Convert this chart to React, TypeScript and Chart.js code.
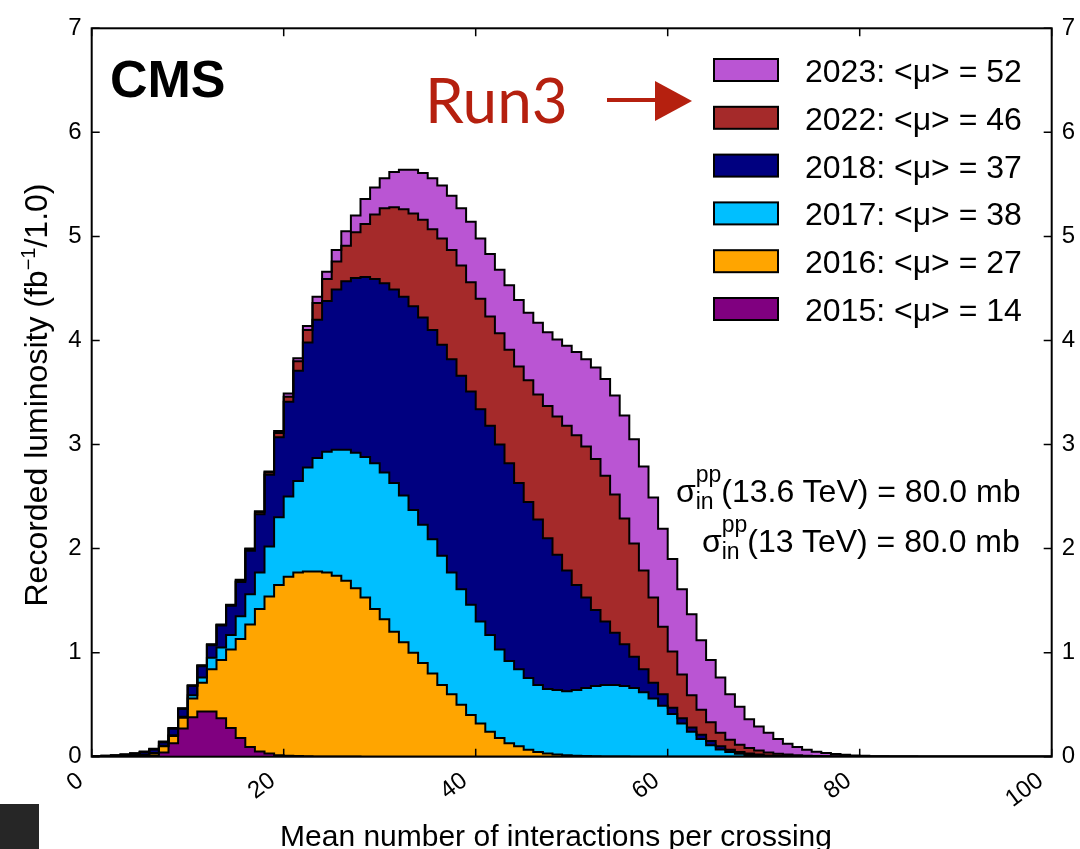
import React, { useEffect, useRef } from "react";
import { Chart, registerables } from "chart.js";

Chart.register(...registerables);

const FONT = "'Liberation Sans', Arial, Helvetica, sans-serif";

// ---- axis / tick definitions ----
const X_MIN = 0;
const X_MAX = 100;
const BIN_WIDTH = 1.0;
const Y_MIN = 0;
const Y_MAX = 7;
const xTickValues = [0, 20, 40, 60, 80, 100];
const yTickValues = [0, 1, 2, 3, 4, 5, 6, 7];

// ---- series (recorded luminosity per bin of mean pileup, fb^-1 / 1.0) ----
const lumi2015 = [
  0, 0, 0, 0, 0, 0, 0.002, 0.01, 0.04, 0.13,
  0.27, 0.38, 0.435, 0.435, 0.37, 0.275, 0.18, 0.093, 0.05, 0.03,
  0.015, 0.01, 0.006, 0.004, 0.003, 0.002, 0.002, 0.001, 0.001, 0,
  0, 0, 0, 0, 0, 0, 0, 0, 0, 0,
  0, 0, 0, 0, 0, 0, 0, 0, 0, 0,
  0, 0, 0, 0, 0, 0, 0, 0, 0, 0,
  0, 0, 0, 0, 0, 0, 0, 0, 0, 0,
  0, 0, 0, 0, 0, 0, 0, 0, 0, 0,
  0, 0, 0, 0, 0, 0, 0, 0, 0, 0,
  0, 0, 0, 0, 0, 0, 0, 0, 0, 0,
];
const lumi2016 = [
  0, 0, 0.001, 0.002, 0.004, 0.007, 0.01, 0.02, 0.06, 0.07,
  0.105, 0.18, 0.275, 0.405, 0.56, 0.755, 0.95, 1.177, 1.37, 1.51,
  1.635, 1.72, 1.764, 1.776, 1.777, 1.768, 1.738, 1.689, 1.619, 1.53,
  1.42, 1.32, 1.2, 1.1, 1.0, 0.9, 0.8, 0.69, 0.6, 0.5,
  0.4, 0.32, 0.24, 0.18, 0.13, 0.1, 0.067, 0.045, 0.03, 0.02,
  0.013, 0.009, 0.006, 0.004, 0.003, 0.002, 0.001, 0, 0, 0,
  0, 0, 0, 0, 0, 0, 0, 0, 0, 0,
  0, 0, 0, 0, 0, 0, 0, 0, 0, 0,
  0, 0, 0, 0, 0, 0, 0, 0, 0, 0,
  0, 0, 0, 0, 0, 0, 0, 0, 0, 0,
];
const lumi2017 = [
  0, 0.001, 0.001, 0.002, 0.003, 0.004, 0.006, 0.006, 0.005, 0.005,
  0.01, 0.03, 0.05, 0.11, 0.12, 0.14, 0.22, 0.29, 0.35, 0.48,
  0.65, 0.77, 0.88, 1.0, 1.09, 1.16, 1.21, 1.26, 1.3, 1.35,
  1.4, 1.41, 1.43, 1.41, 1.37, 1.33, 1.29, 1.24, 1.17, 1.11,
  1.06, 0.98, 0.93, 0.85, 0.79, 0.74, 0.69, 0.645, 0.62, 0.62,
  0.617, 0.631, 0.654, 0.676, 0.687, 0.688, 0.679, 0.66, 0.62, 0.56,
  0.49, 0.41, 0.32, 0.24, 0.17, 0.11, 0.07, 0.045, 0.028, 0.017,
  0.01, 0.006, 0.004, 0.002, 0, 0, 0, 0, 0, 0,
  0, 0, 0, 0, 0, 0, 0, 0, 0, 0,
  0, 0, 0, 0, 0, 0, 0, 0, 0, 0,
];
const lumi2018 = [
  0.002, 0.003, 0.005, 0.007, 0.011, 0.017, 0.024, 0.032, 0.035, 0.065,
  0.075, 0.09, 0.11, 0.12, 0.21, 0.28, 0.33, 0.42, 0.56, 0.69,
  0.77, 0.91, 1.06, 1.2, 1.33, 1.45, 1.54, 1.62, 1.68, 1.73,
  1.77, 1.82, 1.86, 1.91, 1.96, 1.99, 2.01, 2.03, 2.05, 2.05,
  2.05, 2.04, 2.01, 1.97, 1.9, 1.79, 1.69, 1.59, 1.45, 1.3,
  1.16, 1.01, 0.87, 0.73, 0.61, 0.5, 0.4, 0.3, 0.22, 0.15,
  0.11, 0.06, 0.05, 0.04, 0.04, 0.04, 0.03, 0.022, 0.017, 0.013,
  0.01, 0.006, 0.004, 0.003, 0.003, 0.002, 0.001, 0, 0, 0,
  0, 0, 0, 0, 0, 0, 0, 0, 0, 0,
  0, 0, 0, 0, 0, 0, 0, 0, 0, 0,
];
const lumi2022 = [
  0, 0, 0.001, 0.001, 0.002, 0.003, 0.004, 0.004, 0, 0.002,
  0.002, 0.002, 0.005, 0.005, 0.005, 0.005, 0.01, 0.015, 0.02, 0.02,
  0.04, 0.05, 0.09, 0.12, 0.16, 0.21, 0.27, 0.34, 0.44, 0.51,
  0.62, 0.72, 0.79, 0.84, 0.89, 0.94, 0.97, 1.02, 1.05, 1.06,
  1.05, 1.06, 1.05, 1.07, 1.09, 1.12, 1.17, 1.2, 1.27, 1.33,
  1.39, 1.44, 1.45, 1.45, 1.4, 1.33, 1.21, 1.09, 0.95, 0.82,
  0.65, 0.54, 0.42, 0.31, 0.24, 0.18, 0.13, 0.096, 0.07, 0.053,
  0.04, 0.028, 0.02, 0.015, 0.01, 0.007, 0.005, 0.004, 0.003, 0.002,
  0.001, 0, 0, 0, 0, 0, 0, 0, 0, 0,
  0, 0, 0, 0, 0, 0, 0, 0, 0, 0,
];
const lumi2023 = [
  0, 0, 0, 0.001, 0.001, 0.002, 0.003, 0.004, 0.005, 0.003,
  0.003, 0.004, 0.005, 0.005, 0.005, 0.005, 0.01, 0.005, 0.01, 0.01,
  0.02, 0.03, 0.03, 0.04, 0.06, 0.07, 0.11, 0.14, 0.16, 0.24,
  0.26, 0.29, 0.34, 0.38, 0.42, 0.45, 0.49, 0.51, 0.52, 0.55,
  0.58, 0.58, 0.6, 0.61, 0.62, 0.64, 0.65, 0.69, 0.71, 0.74,
  0.77, 0.8, 0.84, 0.88, 0.93, 0.95, 0.99, 1.0, 1.0, 0.96,
  0.94, 0.89, 0.82, 0.78, 0.67, 0.6, 0.53, 0.437, 0.365, 0.277,
  0.23, 0.19, 0.142, 0.105, 0.08, 0.058, 0.042, 0.031, 0.022, 0.016,
  0.011, 0.008, 0.005, 0.0035, 0.0025, 0.0015, 0.001, 0.0006, 0.0004, 0,
  0, 0, 0, 0, 0, 0, 0, 0, 0, 0,
];

const seriesLabels = [
  "2015: <μ> = 14",
  "2016: <μ> = 27",
  "2017: <μ> = 38",
  "2018: <μ> = 37",
  "2022: <μ> = 46",
  "2023: <μ> = 52",
];
const seriesColors = ["#800080", "#FFA500", "#00BFFF", "#000080", "#A52A2A", "#BA55D3"];
const seriesValues = [lumi2015, lumi2016, lumi2017, lumi2018, lumi2022, lumi2023];

const RUN3_RED = "#b5200f";

// histogram -> stepped points at bin low edges, closing at the last upper edge
function toSteps(values: number[]) {
  const pts = values.map((y, i) => ({ x: X_MIN + i * BIN_WIDTH, y }));
  pts.push({ x: X_MIN + values.length * BIN_WIDTH, y: values[values.length - 1] });
  return pts;
}

const frameAndTicks = {
  id: "frameAndTicks",
  afterDraw(chart: any) {
    const { ctx, chartArea: a, scales } = chart;
    const xs = scales.x;
    const ys = scales.y;
    ctx.save();
    ctx.strokeStyle = "#000";
    ctx.lineWidth = 1.5;
    ctx.beginPath();
    xTickValues.forEach((v) => {
      const p = xs.getPixelForValue(v);
      ctx.moveTo(p, a.bottom);
      ctx.lineTo(p, a.bottom - 8);
      ctx.moveTo(p, a.top);
      ctx.lineTo(p, a.top + 8);
    });
    yTickValues.forEach((v) => {
      const p = ys.getPixelForValue(v);
      ctx.moveTo(a.left, p);
      ctx.lineTo(a.left + 8, p);
      ctx.moveTo(a.right, p);
      ctx.lineTo(a.right - 8, p);
    });
    ctx.stroke();
    ctx.lineWidth = 2;
    ctx.strokeRect(a.left, a.top, a.right - a.left, a.bottom - a.top);
    ctx.restore();
  },
};

const CANVAS_W = 1080;
const CANVAS_H = 870;
const AREA_LEFT = 91.7;
const AREA_RIGHT = 1051.7;
const AREA_TOP = 28.3;
const AREA_BOTTOM = 756.7;

export default function App() {
  const canvasRef = useRef<HTMLCanvasElement>(null);

  useEffect(() => {
    const canvas = canvasRef.current;
    if (!canvas) return;
    const tickFont = { family: FONT, size: 24 };
    const chart = new Chart(canvas, {
      type: "line",
      data: {
        datasets: seriesValues.map((vals, i) => ({
          label: seriesLabels[i],
          data: toSteps(vals),
          stepped: "after",
          fill: i === 0 ? "origin" : "-1",
          backgroundColor: seriesColors[i],
          borderColor: "#000",
          borderWidth: 2,
          borderJoinStyle: "miter",
          pointRadius: 0,
          pointHoverRadius: 0,
          tension: 0,
        })) as any,
      },
      options: {
        animation: false,
        responsive: false,
        events: [],
        layout: { padding: { top: AREA_TOP, left: 0, right: 0, bottom: 0 } },
        plugins: {
          legend: { display: false },
          tooltip: { enabled: false },
          filler: { propagate: false, drawTime: "beforeDatasetsDraw" } as any,
        },
        scales: {
          x: {
            type: "linear",
            min: X_MIN,
            max: X_MAX,
            grid: { display: false, drawTicks: false },
            border: { display: false },
            ticks: {
              stepSize: 20,
              minRotation: 37,
              maxRotation: 37,
              color: "#000",
              font: tickFont,
              padding: 10,
              labelOffset: -11,
            },
            afterFit: (s: any) => {
              s.height = CANVAS_H - AREA_BOTTOM;
            },
          },
          y: {
            type: "linear",
            position: "left",
            stacked: true,
            min: Y_MIN,
            max: Y_MAX,
            grid: { display: false, drawTicks: false },
            border: { display: false },
            ticks: { stepSize: 1, color: "#000", font: tickFont, padding: 10 },
            afterFit: (s: any) => {
              s.width = AREA_LEFT;
            },
          },
          y2: {
            type: "linear",
            position: "right",
            min: Y_MIN,
            max: Y_MAX,
            grid: { display: false, drawTicks: false },
            border: { display: false },
            ticks: { stepSize: 1, color: "#000", font: tickFont, padding: 10 },
            afterFit: (s: any) => {
              s.width = CANVAS_W - AREA_RIGHT;
            },
          },
        },
      } as any,
      plugins: [frameAndTicks],
    });
    return () => chart.destroy();
  }, []);

  const legendRows = [5, 4, 3, 2, 1, 0];

  return (
    <div
      style={{
        position: "absolute",
        left: 0,
        top: 0,
        width: 1080,
        height: 849,
        overflow: "hidden",
        background: "#fff",
      }}
    >
      <canvas
        ref={canvasRef}
        width={CANVAS_W}
        height={CANVAS_H}
        style={{ position: "absolute", left: 0, top: 0, width: CANVAS_W, height: CANVAS_H }}
      />
      <svg
        width={1080}
        height={849}
        style={{ position: "absolute", left: 0, top: 0, pointerEvents: "none" }}
        fontFamily={FONT}
      >
        <text x={110} y={96.5} fontSize={52} fontWeight="bold" fill="#000">
          CMS
        </text>
        <text x={425} y={123} fontSize={62} fontFamily="Lato, 'Open Sans', sans-serif" fill={RUN3_RED}>
          Run3
        </text>
        <path d="M607,100 L661,100" stroke={RUN3_RED} strokeWidth={4} fill="none" />
        <polygon points="655,81 692,101 655,121" fill={RUN3_RED} />

        {legendRows.map((k, r) => (
          <g key={k}>
            <rect
              x={714}
              y={59 + 47.8 * r}
              width={64}
              height={22}
              fill={seriesColors[k]}
              stroke="#000"
              strokeWidth={2}
            />
            <text x={805} y={82 + 47.8 * r} fontSize={32} fill="#000">
              {seriesLabels[k]}
            </text>
          </g>
        ))}

        <text x={676} y={502} fontSize={32} fill="#000">
          σ
          <tspan fontSize={23} dy={7}>
            in
          </tspan>
          <tspan fontSize={23} dx={-17.9} dy={-27}>
            pp
          </tspan>
          <tspan fontSize={32} dy={20}>
            (13.6 TeV) = 80.0 mb
          </tspan>
        </text>
        <text x={702} y={552} fontSize={32} fill="#000">
          σ
          <tspan fontSize={23} dy={7}>
            in
          </tspan>
          <tspan fontSize={23} dx={-17.9} dy={-27}>
            pp
          </tspan>
          <tspan fontSize={32} dy={20}>
            (13 TeV) = 80.0 mb
          </tspan>
        </text>

        <text x={556} y={846} fontSize={30} textAnchor="middle" fill="#000">
          Mean number of interactions per crossing
        </text>
        <text transform="translate(47,395) rotate(-90)" fontSize={32} textAnchor="middle" fill="#000">
          Recorded luminosity (fb
          <tspan fontSize={20} dy={-12}>
            −1
          </tspan>
          <tspan dy={12}>/1.0)</tspan>
        </text>
      </svg>
      <div
        style={{
          position: "absolute",
          left: 0,
          top: 804,
          width: 39,
          height: 45,
          background: "#262626",
        }}
      />
    </div>
  );
}
